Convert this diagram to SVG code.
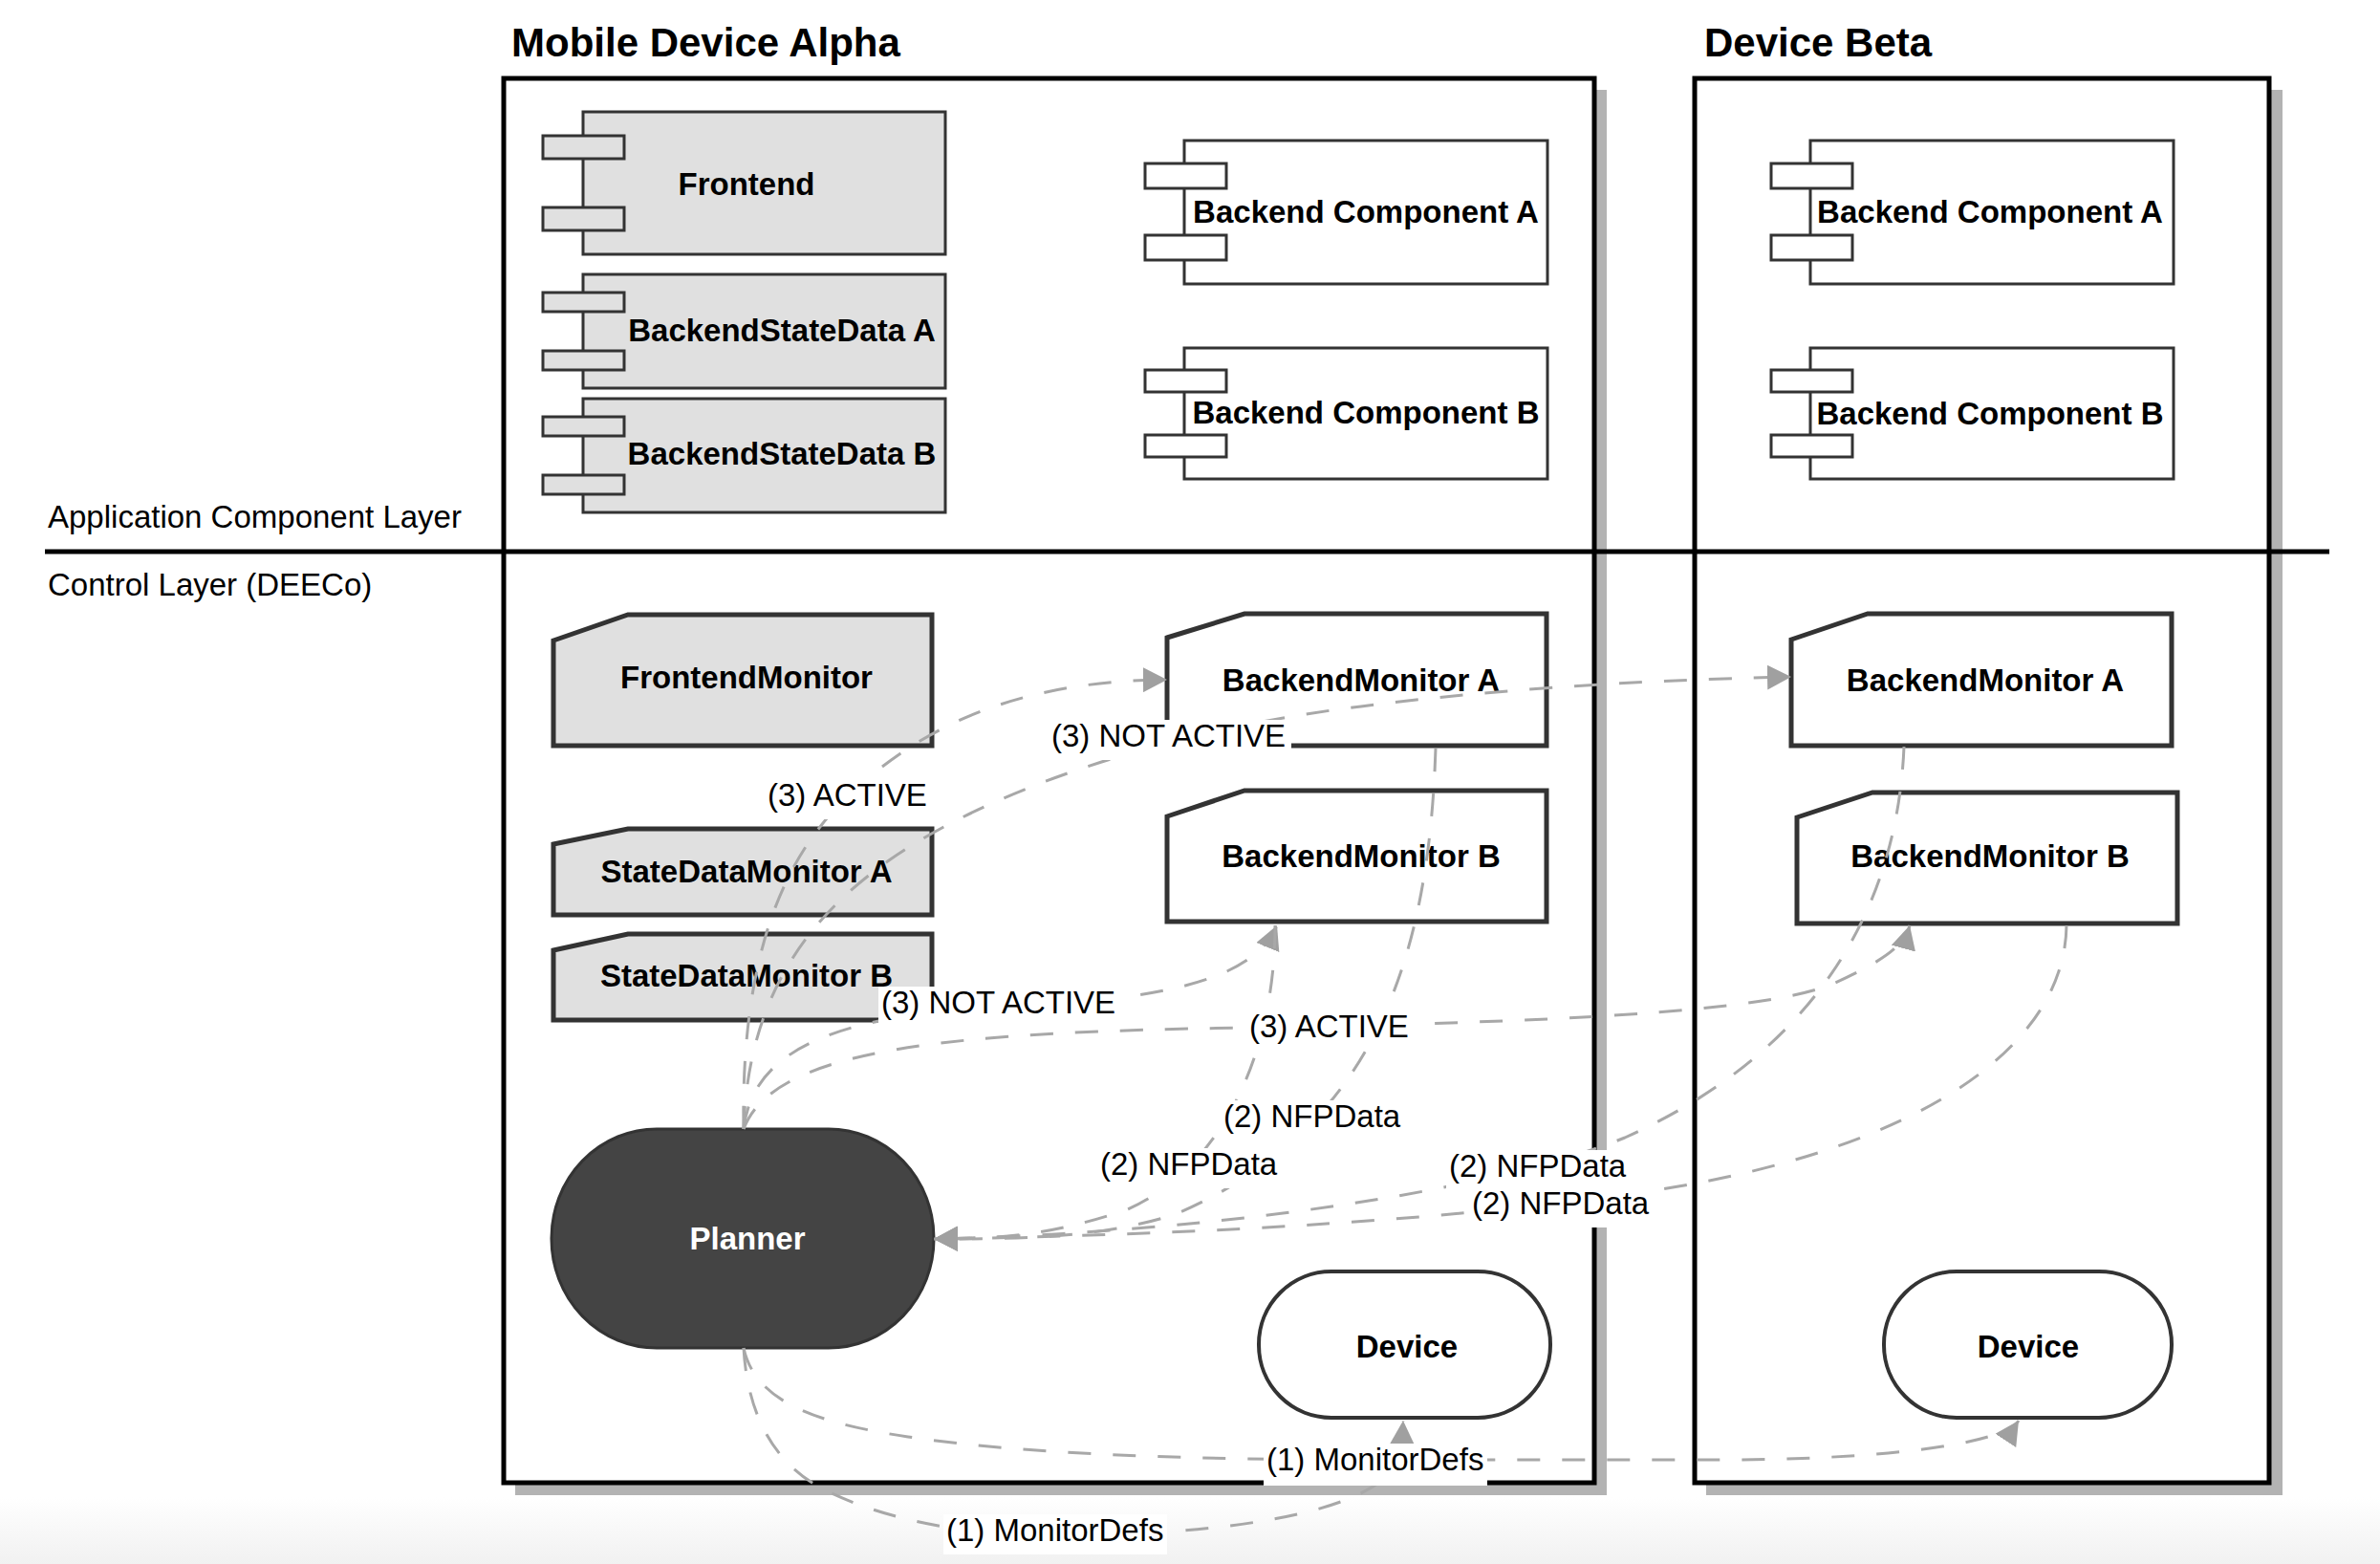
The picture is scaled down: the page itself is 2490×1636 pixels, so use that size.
<svg xmlns="http://www.w3.org/2000/svg" width="2490" height="1636" viewBox="0 0 2490 1636">
<defs>
<linearGradient id="bottomFade" x1="0" y1="0" x2="0" y2="1">
<stop offset="0" stop-color="#ffffff"/>
<stop offset="1" stop-color="#f1f1f1"/>
</linearGradient>
<marker id="arrow" markerUnits="userSpaceOnUse" markerWidth="26" markerHeight="26" refX="25" refY="13" orient="auto" viewBox="0 0 26 26">
<path d="M0,0 L25,13 L0,26 Z" fill="#a0a0a0"/>
</marker>
</defs>
<style>
text{font-family:"Liberation Sans",Arial,Helvetica,sans-serif;fill:#000}
.title{font-size:42px;font-weight:bold}
.layer{font-size:33px}
.nt{font-size:33px;font-weight:bold;text-anchor:middle}
.cl{font-size:33px}
.shadow{fill:#b3b3b3}
.box{fill:#fff;stroke:#000;stroke-width:5}
.cg{fill:#e0e0e0;stroke:#333;stroke-width:3}
.cw{fill:#fff;stroke:#333;stroke-width:3}
.mg{fill:#e0e0e0;stroke:#333;stroke-width:5}
.mw{fill:#fff;stroke:#333;stroke-width:5}
.dev{fill:#fff;stroke:#333;stroke-width:4}
.conn{fill:none;stroke:#a8a8a8;stroke-width:3;stroke-dasharray:24 23;marker-end:url(#arrow)}
.lbg{fill:#fff}
</style>
<rect x="0" y="0" width="2490" height="1636" fill="#fff"/>
<rect x="0" y="1566" width="2490" height="70" fill="url(#bottomFade)"/>

<g id="container-alpha">
<rect class="shadow" x="539" y="94" width="1142" height="1470"/>
<rect class="box" x="527" y="82" width="1141" height="1469"/>
<text class="title" x="535" y="59">Mobile Device Alpha</text>
</g>
<g id="container-beta">
<rect class="shadow" x="1785" y="94" width="603" height="1470"/>
<rect class="box" x="1773" y="82" width="601" height="1469"/>
<text class="title" x="1783" y="59">Device Beta</text>
</g>

<g id="layers">
<line x1="47" y1="577" x2="2437" y2="577" stroke="#000" stroke-width="5"/>
<text class="layer" x="50" y="552">Application Component Layer</text>
<text class="layer" x="50" y="623">Control Layer (DEECo)</text>
</g>

<g id="frontend">
<rect class="cg" x="610" y="117" width="379" height="149"/>
<rect class="cg" x="568" y="142" width="85" height="24"/>
<rect class="cg" x="568" y="217" width="85" height="24"/>
<text class="nt" x="781" y="204">Frontend</text>
</g>
<g id="backend-state-data-a">
<rect class="cg" x="610" y="287" width="379" height="119"/>
<rect class="cg" x="568" y="306" width="85" height="20"/>
<rect class="cg" x="568" y="367" width="85" height="20"/>
<text class="nt" x="818" y="357">BackendStateData A</text>
</g>
<g id="backend-state-data-b">
<rect class="cg" x="610" y="417" width="379" height="119"/>
<rect class="cg" x="568" y="436" width="85" height="20"/>
<rect class="cg" x="568" y="497" width="85" height="20"/>
<text class="nt" x="818" y="486">BackendStateData B</text>
</g>
<g id="alpha-backend-component-a">
<rect class="cw" x="1239" y="147" width="380" height="150"/>
<rect class="cw" x="1198" y="171" width="85" height="26"/>
<rect class="cw" x="1198" y="246" width="85" height="26"/>
<text class="nt" x="1429" y="233">Backend Component A</text>
</g>
<g id="alpha-backend-component-b">
<rect class="cw" x="1239" y="364" width="380" height="137"/>
<rect class="cw" x="1198" y="387" width="85" height="23"/>
<rect class="cw" x="1198" y="455" width="85" height="23"/>
<text class="nt" x="1429" y="443">Backend Component B</text>
</g>
<g id="beta-backend-component-a">
<rect class="cw" x="1894" y="147" width="380" height="150"/>
<rect class="cw" x="1853" y="171" width="85" height="26"/>
<rect class="cw" x="1853" y="246" width="85" height="26"/>
<text class="nt" x="2082" y="233">Backend Component A</text>
</g>
<g id="beta-backend-component-b">
<rect class="cw" x="1894" y="364" width="380" height="137"/>
<rect class="cw" x="1853" y="387" width="85" height="23"/>
<rect class="cw" x="1853" y="455" width="85" height="23"/>
<text class="nt" x="2082" y="444">Backend Component B</text>
</g>

<g id="frontend-monitor">
<path class="mg" d="M579,670 L657,643 L975,643 L975,780 L579,780 Z"/>
<text class="nt" x="781" y="720">FrontendMonitor</text>
</g>
<g id="state-data-monitor-a">
<path class="mg" d="M579,883 L657,867 L975,867 L975,957 L579,957 Z"/>
<text class="nt" x="781" y="923">StateDataMonitor A</text>
</g>
<g id="state-data-monitor-b">
<path class="mg" d="M579,994 L657,977 L975,977 L975,1067 L579,1067 Z"/>
<text class="nt" x="781" y="1032">StateDataMonitor B</text>
</g>
<g id="alpha-backend-monitor-a">
<path class="mw" d="M1221,667 L1302,642 L1618,642 L1618,780 L1221,780 Z"/>
<text class="nt" x="1424" y="723">BackendMonitor A</text>
</g>
<g id="alpha-backend-monitor-b">
<path class="mw" d="M1221,854 L1302,827 L1618,827 L1618,964 L1221,964 Z"/>
<text class="nt" x="1424" y="907">BackendMonitor B</text>
</g>
<g id="beta-backend-monitor-a">
<path class="mw" d="M1874,669 L1954,642 L2272,642 L2272,780 L1874,780 Z"/>
<text class="nt" x="2077" y="723">BackendMonitor A</text>
</g>
<g id="beta-backend-monitor-b">
<path class="mw" d="M1880,855 L1959,829 L2278,829 L2278,966 L1880,966 Z"/>
<text class="nt" x="2082" y="907">BackendMonitor B</text>
</g>
<g id="planner">
<rect x="577" y="1181" width="400" height="229" rx="110" ry="114" fill="#444" stroke="#333" stroke-width="3"/>
<text class="nt" x="782" y="1307" style="fill:#fff">Planner</text>
</g>
<g id="alpha-device">
<rect class="dev" x="1317" y="1330" width="305" height="153" rx="76" ry="76"/>
<text class="nt" x="1472" y="1420">Device</text>
</g>
<g id="beta-device">
<rect class="dev" x="1971" y="1330" width="301" height="153" rx="76" ry="76"/>
<text class="nt" x="2122" y="1420">Device</text>
</g>

<g id="connectors">
<path class="conn" d="M778,1410 C782,1480 810,1535 870,1562 C930,1590 1010,1606 1100,1606 C1250,1606 1400,1590 1450,1545 C1462,1532 1467,1510 1468,1486"/>
<path class="conn" d="M778,1410 C790,1465 850,1488 950,1503 C1080,1522 1250,1527 1450,1527 L1800,1527 C1960,1527 2095,1512 2112,1486"/>
<path class="conn" d="M778,1181 C775,1000 820,900 880,840 C950,770 1050,712 1221,711"/>
<path class="conn" d="M778,1181 C782,1060 830,970 930,900 C1030,830 1200,770 1400,742 C1550,722 1700,712 1874,708"/>
<path class="conn" d="M778,1181 C788,1095 880,1062 1050,1053 C1200,1046 1310,1030 1336,968"/>
<path class="conn" d="M778,1181 C810,1095 1000,1080 1300,1075 C1600,1070 1850,1060 1920,1028 C1970,1005 1992,990 1998,968"/>
<path class="conn" d="M1502,783 C1495,1000 1440,1180 1230,1270 C1150,1296 1060,1296 977,1296"/>
<path class="conn" d="M1334,968 C1334,1100 1280,1220 1180,1265 C1100,1292 1050,1296 977,1296"/>
<path class="conn" d="M1992,781 C1985,950 1900,1100 1700,1190 C1550,1250 1250,1290 977,1296"/>
<path class="conn" d="M2162,968 C2160,1100 2000,1200 1750,1242 C1550,1275 1250,1292 977,1296"/>
</g>

<g id="connector-labels">
<rect class="lbg" x="1097" y="753" width="254" height="42"/>
<text class="cl" x="1100" y="781">(3) NOT ACTIVE</text>
<rect class="lbg" x="800" y="815" width="175" height="42"/>
<text class="cl" x="803" y="843">(3) ACTIVE</text>
<rect class="lbg" x="919" y="1032" width="254" height="42"/>
<text class="cl" x="922" y="1060">(3) NOT ACTIVE</text>
<rect class="lbg" x="1304" y="1057" width="175" height="42"/>
<text class="cl" x="1307" y="1085">(3) ACTIVE</text>
<rect class="lbg" x="1277" y="1151" width="191" height="42"/>
<text class="cl" x="1280" y="1179">(2) NFPData</text>
<rect class="lbg" x="1148" y="1201" width="191" height="42"/>
<text class="cl" x="1151" y="1229">(2) NFPData</text>
<rect class="lbg" x="1513" y="1203" width="191" height="42"/>
<text class="cl" x="1516" y="1231">(2) NFPData</text>
<rect class="lbg" x="1537" y="1242" width="191" height="42"/>
<text class="cl" x="1540" y="1270">(2) NFPData</text>
<rect class="lbg" x="1322" y="1510" width="234" height="44"/>
<text class="cl" x="1325" y="1538">(1) MonitorDefs</text>
<rect class="lbg" x="987" y="1584" width="234" height="42"/>
<text class="cl" x="990" y="1612">(1) MonitorDefs</text>
</g>
</svg>
